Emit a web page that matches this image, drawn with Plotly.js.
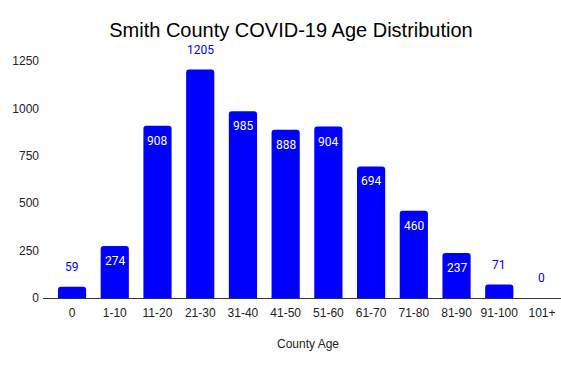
<!DOCTYPE html>
<html><head><meta charset="utf-8">
<script src="https://cdn.plot.ly/plotly-3.0.1.min.js"></script>
<style>html,body{margin:0;padding:0;background:#fff}#c{width:561px;height:369px}</style>
</head><body><div id="c"></div>
<script>
const categories = ["0","1-10","11-20","21-30","31-40","41-50","51-60","61-70","71-80","81-90","91-100","101+"];
const cases = [59,274,908,1205,985,888,904,694,460,237,71,0];
const labelOutside = [true,false,false,true,false,false,false,false,false,false,true,true];
const yTicks = [0,250,500,750,1000,1250];

const annotations = categories.map((c,i)=>({
  x: c, y: cases[i], xref:'x', yref:'y',
  text: String(cases[i]), showarrow:false,
  xanchor:'center', yanchor: labelOutside[i] ? 'bottom' : 'top',
  yshift: labelOutside[i] ? 11 : -6,
  font:{family:'Roboto, Arial, sans-serif', size:12, color: labelOutside[i] ? '#0000ff' : '#ffffff'}
}));
annotations.push({
  xref:'paper', yref:'paper', x:(308-43)/518, y:-(344-298)/237,
  xanchor:'center', yanchor:'middle', showarrow:false,
  text:'County Age',
  font:{family:'Liberation Sans, Arial, sans-serif', size:12, color:'#222'}
});

const trace = {
  type:'bar', x:categories, y:cases,
  marker:{color:'#0000ff', cornerradius:3},
  hoverinfo:'none'
};

const layout = {
  width:561, height:369,
  margin:{l:43, r:0, t:61, b:71},
  paper_bgcolor:'#fff', plot_bgcolor:'#fff',
  bargap:0.34,
  showlegend:false,
  title:{text:'Smith County COVID-19 Age Distribution', x:291/561, xanchor:'center', y:1-30/369, yanchor:'middle',
    font:{family:'Liberation Sans, Arial, sans-serif', size:20, color:'#000'}},
  xaxis:{type:'category', range:[-0.68, 11.445], showgrid:false, zeroline:false,
    showline:true, linecolor:'#333', linewidth:1, ticks:'', ticklabelstandoff:4,
    tickfont:{family:'Liberation Sans, Arial, sans-serif', size:12, color:'#222'}},
  yaxis:{range:[0,1250], tickvals:yTicks, ticktext:yTicks.map(String), showgrid:false, zeroline:false,
    showline:false, ticks:'', ticklabelstandoff:3,
    tickfont:{family:'Liberation Sans, Arial, sans-serif', size:12, color:'#222'}},
  annotations: annotations
};
Plotly.newPlot('c',[trace],layout,{displayModeBar:false, staticPlot:true});
</script></body></html>
